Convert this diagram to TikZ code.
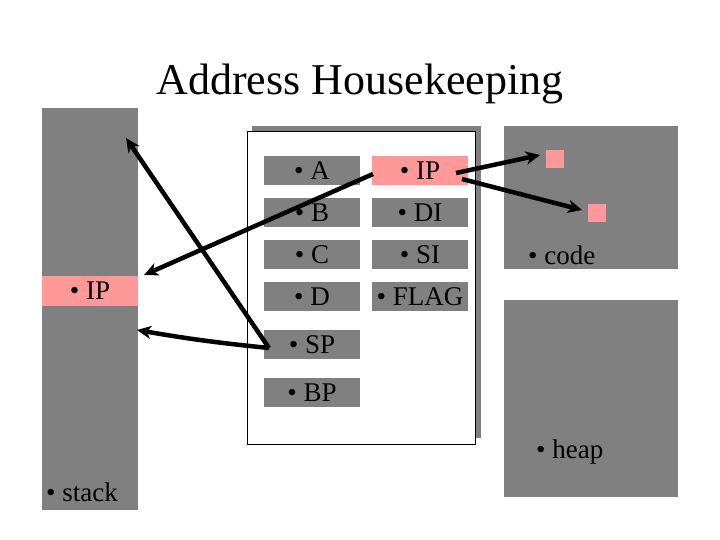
\documentclass[tikz,border=0pt]{standalone}
\usepackage{fontspec}
\setmainfont{Liberation Serif}
\usetikzlibrary{arrows.meta}
\definecolor{bgray}{RGB}{128,128,128}
\definecolor{pinkc}{RGB}{255,153,153}
\tikzset{
  blk/.style={fill=bgray, draw=none, inner sep=0pt},
  reg/.style={fill=bgray, draw=none, inner sep=0pt, minimum width=96pt, minimum height=29pt, font=\fontsize{27}{30}\selectfont},
  regp/.style={reg, fill=pinkc},
  lbl/.style={font=\fontsize{27}{30}\selectfont, inner sep=0pt, anchor=west},
  conn/.style={line width=4.5pt, -{Stealth[length=14pt,width=13pt,inset=4pt]}},
}
\begin{document}
\begin{tikzpicture}[x=1pt,y=-1pt]
\useasboundingbox (0,0) rectangle (720,540);
% title
\node[font=\fontsize{44}{48}\selectfont, inner sep=0pt] (title) at (360,84) {Address Housekeeping};
% stack
\node[blk, minimum width=96pt, minimum height=402pt] (stack) at (90,309) {};
\node[regp, minimum width=96pt, minimum height=30pt] (stackip) at (90,291) {• IP};
\node[lbl] (stacklbl) at (46,492) {• stack};
% code and heap
\node[blk, minimum width=174pt, minimum height=143pt] (code) at (591,197.5) {};
\node[blk, minimum width=174pt, minimum height=197pt] (heap) at (591,398.5) {};
\node[lbl] (codelbl) at (528,255) {• code};
\node[lbl] (heaplbl) at (536,452) {• heap};
\node[fill=pinkc, inner sep=0pt, minimum size=18pt] (sq1) at (555,159) {};
\node[fill=pinkc, inner sep=0pt, minimum size=18pt] (sq2) at (597,213) {};
% register panel
\node[blk, minimum width=229pt, minimum height=312pt] (shadow) at (366.5,282) {};
\node[fill=white, draw=black, line width=1pt, inner sep=0pt, minimum width=228pt, minimum height=312pt] (panel) at (361,288) {};
\node[reg] (rA) at (312,170.5) {• A};
\node[reg] (rB) at (312,212.5) {• B};
\node[reg] (rC) at (312,254.5) {• C};
\node[reg] (rD) at (312,296.5) {• D};
\node[reg] (rSP) at (312,344.5) {• SP};
\node[reg] (rBP) at (312,392.5) {• BP};
\node[regp] (rIP) at (420,170.5) {• IP};
\node[reg] (rDI) at (420,212.5) {• DI};
\node[reg] (rSI) at (420,254.5) {• SI};
\node[reg] (rFL) at (420,296.5) {• FLAG};
% connector end points
\coordinate (ipL) at (373,174);
\coordinate (ipR1) at (456,173);
\coordinate (ipR2) at (462,179);
\coordinate (spL) at (269,348);
\coordinate (stTop) at (126,138);
\coordinate (stIP) at (144,275);
\coordinate (stMid) at (137,330);
\coordinate (sq1t) at (540,155);
\coordinate (sq2t) at (582,210);
% connectors
\draw[conn] (ipL) -- (stIP);
\draw[conn] (spL) -- (stTop);
\draw[conn] (spL) to[bend left=2] (stMid);
\draw[conn] (ipR1) -- (sq1t);
\draw[conn] (ipR2) -- (sq2t);
\end{tikzpicture}
\end{document}
